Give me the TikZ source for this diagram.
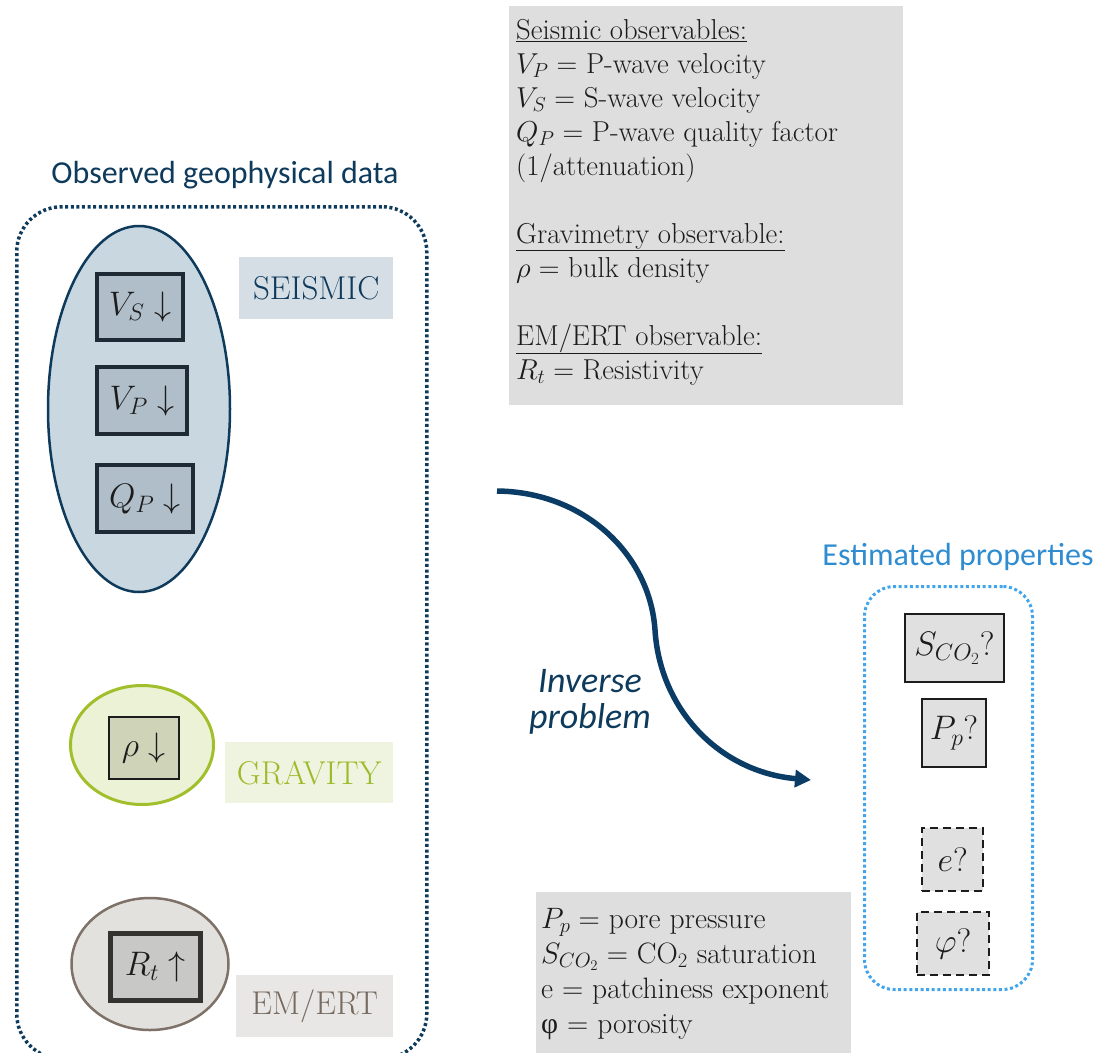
\RequirePackage{fix-cm}
\documentclass[tikz,border=0pt]{standalone}
\usepackage{fontspec}
\newfontfamily\calibri{Carlito}
\newfontfamily\grk{Liberation Serif}
\usetikzlibrary{shapes.geometric,arrows.meta}
\definecolor{navy}{HTML}{0E3A5C}
\definecolor{arrowblue}{HTML}{0B3C65}
\definecolor{seisfill}{HTML}{C9D7E0}
\definecolor{seisbox}{HTML}{AFBEC8}
\definecolor{seisedge}{HTML}{1F2B34}
\definecolor{seislab}{HTML}{D6DEE5}
\definecolor{grnedge}{HTML}{A0BF2A}
\definecolor{grnfill}{HTML}{EBF2D6}
\definecolor{grnbox}{HTML}{CFD4B9}
\definecolor{grnlab}{HTML}{EEF4DF}
\definecolor{grntext}{HTML}{9CBB2B}
\definecolor{emedge}{HTML}{7E7268}
\definecolor{emfill}{HTML}{E2E1DE}
\definecolor{embox}{HTML}{C8C8C6}
\definecolor{emboxedge}{HTML}{35332F}
\definecolor{emlab}{HTML}{E8E7E5}
\definecolor{emtext}{HTML}{776B60}
\definecolor{boxgray}{HTML}{DEDEDE}
\definecolor{estgray}{HTML}{E0E0E0}
\definecolor{esttitle}{HTML}{2F8CD0}
\definecolor{estdot}{HTML}{42A5EC}
\definecolor{ink}{HTML}{1C1C1C}
\tikzset{
  framebox/.style={draw, rounded corners=#1, anchor=north west, inner sep=0},
  varfont/.style={font=\fontsize{34}{40}\selectfont, text=ink},
  seisvar/.style={draw=seisedge, line width=4pt, fill=seisbox, anchor=north west, inner sep=0, varfont},
  catlabel/.style={anchor=north west, inner sep=0, font=\fontsize{33}{36}\selectfont},
  estvar/.style={draw=ink, line width=2pt, fill=estgray, anchor=north west, inner sep=0, varfont},
  estguess/.style={estvar, line width=2.3pt, dash pattern=on 8pt off 5pt},
}
\begin{document}
\begin{tikzpicture}[x=1pt,y=-1pt]
\useasboundingbox (0,0) rectangle (1099,1052);

% left frame
\node[font=\calibri\fontsize{32}{36}\selectfont, text=navy, anchor=base] (obstitle) at (225,183) {Observed geophysical data};
\node[framebox=45, draw=navy, line width=3.5pt, dash pattern=on 3pt off 2.6pt, minimum width=410, minimum height=852] (obsframe) at (15,205) {};

% seismic
\node[ellipse, draw=navy, line width=2.5pt, fill=seisfill, minimum width=182, minimum height=366] (seis) at (139,409) {};
\node[seisvar, minimum width=86, minimum height=66] (vs) at (95,272) {$V_S\downarrow$};
\node[seisvar, minimum width=90, minimum height=67] (vp) at (95,365) {$V_P\downarrow$};
\node[seisvar, minimum width=96, minimum height=67] (qp) at (95,463) {$Q_P\downarrow$};
\node[catlabel, fill=seislab, minimum width=154, minimum height=62, text=navy] (seislabel) at (239,257) {SEISMIC};

% gravity
\node[ellipse, draw=grnedge, line width=3pt, fill=grnfill, minimum width=143, minimum height=119] (grav) at (142,745) {};
\node[draw=ink, line width=1.5pt, fill=grnbox, anchor=north west, inner sep=0, minimum width=70, minimum height=62, varfont] (rho) at (108,716) {$\rho\downarrow$};
\node[catlabel, fill=grnlab, minimum width=168, minimum height=61, text=grntext] (gravlabel) at (225,742) {GRAVITY};

% EM
\node[ellipse, draw=emedge, line width=2.5pt, fill=emfill, minimum width=157, minimum height=132] (em) at (150,964) {};
\node[draw=emboxedge, line width=4.5pt, fill=embox, anchor=north west, inner sep=0, minimum width=90, minimum height=67, varfont] (rt) at (108,931) {$R_t\uparrow$};
\node[catlabel, fill=emlab, minimum width=157, minimum height=62, text=emtext] (emlabel) at (236,975) {EM/ERT};

% top legend
\node[fill=boxgray, anchor=north west, inner sep=0, minimum width=394, minimum height=399] (obsbox) at (509,6) {};
\node[anchor=base west, inner sep=0, text=ink] (obslegend) at (516,39) {\parbox[t]{385pt}{\fontsize{28.8}{34}\selectfont\raggedright
\underline{Seismic observables:}\\
$V_P =$ P-wave velocity\\
$V_S =$ S-wave velocity\\
$Q_P =$ P-wave quality factor\\
(1/attenuation)\\[34pt]
\underline{Gravimetry observable:}\\
$\rho =$ bulk density\\[34pt]
\underline{EM/ERT observable:}\\
$R_t =$ Resistivity}};

% inverse arrow
\coordinate (arrstart) at (497,491);
\coordinate (arrmid) at (655,630);
\coordinate (arrend) at (811,780);
\draw[arrowblue, line width=5.5pt, -{Triangle[length=16pt,width=17pt]}] (arrstart) .. controls (585,492) and (650,555) .. (arrmid) .. controls (660,710) and (720,772) .. (arrend);
\node[anchor=base, text=navy, font=\calibri\itshape\fontsize{36}{36}\selectfont] (invlabel) at (590,692) {\parbox[t]{200pt}{\centering Inverse\\problem}};

% estimated
\node[text=esttitle, font=\calibri\fontsize{32}{36}\selectfont, anchor=base] (esttitle) at (958,565) {Estimated properties};
\node[framebox=30, draw=estdot, line width=3pt, dash pattern=on 3pt off 2.6pt, minimum width=168, minimum height=403] (estframe) at (863,585) {};
\node[estvar, minimum width=99, minimum height=68] (sco2) at (904,613) {$S_{CO_2}?$};
\node[estvar, minimum width=64, minimum height=68] (pp) at (921,698) {$P_p?$};
\node[estguess, minimum width=61, minimum height=63] (ee) at (921,827) {$e?$};
\node[estguess, minimum width=72, minimum height=63] (phi) at (916,911) {$\varphi?$};

% bottom legend
\node[fill=boxgray, anchor=north west, inner sep=0, minimum width=315, minimum height=170] (estbox) at (536,892) {};
\node[anchor=base west, inner sep=0, text=ink] (estlegend) at (541,928) {\parbox[t]{305pt}{\fontsize{29.5}{35}\selectfont\raggedright
$P_p =$ pore pressure\\
$S_{CO_2} =$ CO$_2$ saturation\\
e = patchiness exponent\\
{\grk φ} = porosity}};
\end{tikzpicture}
\end{document}
